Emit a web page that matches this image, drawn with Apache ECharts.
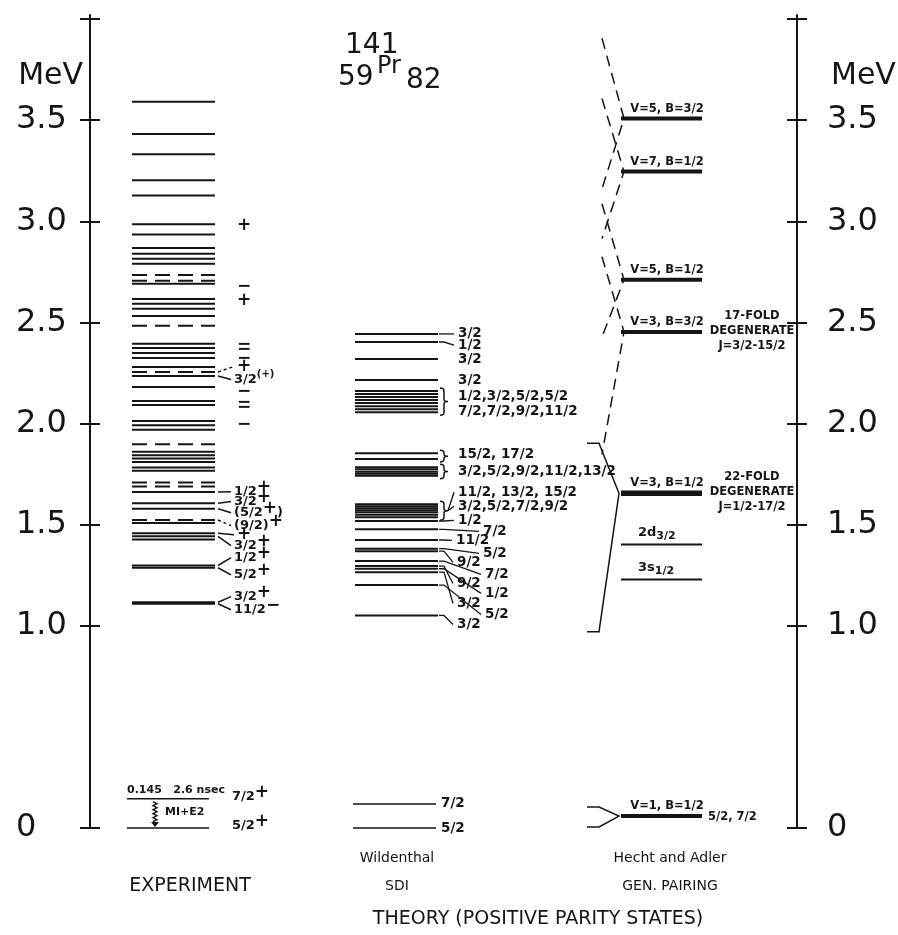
<!DOCTYPE html>
<html>
<head>
<meta charset="utf-8">
<script src="https://cdn.jsdelivr.net/npm/echarts@6.0.0/dist/echarts.min.js"></script>
<style>
  html, body { margin: 0; padding: 0; background: #fff; }
  #chart { width: 898px; height: 935px; }
</style>
</head>
<body>
<div id="chart"></div>
<script>
// axis (MeV)
const tickValues = [0, 1.0, 1.5, 2.0, 2.5, 3.0, 3.5, 4.0];
const labelValues = [0, 1.0, 1.5, 2.0, 2.5, 3.0, 3.5];

// experiment levels (MeV)
const expLevels = [3.591, 3.431, 3.332, 3.203, 3.128, 2.985, 2.935, 2.868, 2.839, 2.815, 2.790,
  2.691, 2.616, 2.592, 2.567, 2.532, 2.394, 2.374, 2.349, 2.324, 2.279, 2.235, 2.181,
  2.111, 2.091, 2.012, 1.992, 1.969, 1.860, 1.843, 1.827, 1.810, 1.782, 1.766,
  1.662, 1.606, 1.579, 1.508, 1.457, 1.442, 1.427, 1.298, 1.287, 1.116, 1.109];
const expTentative = [2.735, 2.706, 2.483, 2.255, 1.898, 1.708, 1.688, 1.523];
const expLow = [0.145, 0];

// experiment spin / parity tags
const expTagText = ['+', '−', '+', '−', '−', '−', '+', '3/2^(+)', '−', '−', '−', '−',
  '1/2^+', '3/2^+', '(5/2^+^)', '(9/2)^+', '+', '3/2^+', '1/2^+', '5/2^+', '3/2^+', '11/2^−',
  '7/2^+', '5/2^+'];
const expTagAt = [2.980, 2.678, 2.609, 2.391, 2.366, 2.322, 2.282, 2.218, 2.158, 2.104, 2.079, 1.995,
  1.663, 1.614, 1.559, 1.495, 1.450, 1.396, 1.337, 1.252, 1.144, 1.079,
  0.153, 0.010];
const expTagFrom = [null, null, null, null, null, null, 2.255, 2.235, null, null, null, null,
  1.662, 1.606, 1.579, 1.523, 1.457, 1.442, 1.298, 1.287, 1.116, 1.109,
  null, null];

// Wildenthal SDI levels
const sdiLevels = [2.443, 2.403, 2.319, 2.215,
  2.161, 2.146, 2.131, 2.116, 2.101, 2.086, 2.071, 2.056,
  1.853, 1.824,
  1.784, 1.774, 1.762, 1.752, 1.742,
  1.601, 1.591, 1.581, 1.571, 1.561, 1.549, 1.536,
  1.518, 1.477, 1.424, 1.381, 1.369, 1.320, 1.295, 1.282, 1.265, 1.201, 1.051];
const sdiLow = [0.119, 0];
const sdiGroups = [[4, 11], [12, 13], [14, 18], [19, 25]];
const sdiTagText = ['3/2', '1/2', '3/2', '3/2', '1/2,3/2,5/2,5/2', '7/2,7/2,9/2,11/2',
  '15/2, 17/2', '3/2,5/2,9/2,11/2,13/2', '11/2, 13/2, 15/2', '3/2,5/2,7/2,9/2',
  '1/2', '7/2', '11/2', '5/2', '9/2', '7/2', '9/2', '1/2', '3/2', '5/2', '3/2', '7/2', '5/2'];
const sdiTagAt = [2.443, 2.388, 2.319, 2.215, 2.136, 2.061, 1.848, 1.764, 1.660, 1.591,
  1.521, 1.467, 1.422, 1.358, 1.313, 1.254, 1.209, 1.160, 1.110, 1.056, 1.006, 0.119, 0.0];
const sdiTagFrom = [2.443, 2.403, null, null, null, null, null, null, 'g3', 'g3',
  1.518, 1.477, 1.424, 1.381, 1.369, 1.320, 1.295, 1.282, 1.265, 1.201, 1.051, null, null];

// Hecht and Adler generalized pairing
const haLevels = [3.508, 3.246, 2.711, 2.453, 1.655, 1.402, 1.229, 0.059];
const haNames = ['V=5, B=3/2', 'V=7, B=1/2', 'V=5, B=1/2', 'V=3, B=3/2', 'V=3, B=1/2',
  '2d_3/2', '3s_1/2', 'V=1, B=1/2'];
const haSpreadTop = [3.905, 3.607, 3.087, 2.825, 1.903, null, null, 0.104];
const haSpreadBottom = [3.160, 2.914, 2.428, 1.848, 0.971, null, null, 0.005];
const haNotes = [null, null, null, ['17-FOLD', 'DEGENERATE', 'J=3/2-15/2'],
  ['22-FOLD', 'DEGENERATE', 'J=1/2-17/2'], null, null, ['5/2, 7/2']];

const INK = '#151515';
const FONT = '"DejaVu Sans", sans-serif';
const ctx = document.createElement('canvas').getContext('2d');
function textWidth(t, font) { ctx.font = font; return ctx.measureText(t).width; }

function txt(text, x, y, font, align) {
  return { type: 'text', x: x, y: y, style: { text: text, font: font, fill: INK,
    textAlign: align || 'left', textVerticalAlign: 'middle' } };
}

// text with ^sup^ and _sub_ parts
function tagGroup(str, x, y, size) {
  const out = [];
  if (str === '+' || str === '−') {
    out.push(txt(str, x, y, 'bold ' + (size + 4) + 'px ' + FONT));
    return out;
  }
  let cx = x, mode = 0;
  str.split(/([\^_])/).forEach(tok => {
    if (tok === '^') { mode = mode === 1 ? 0 : 1; return; }
    if (tok === '_') { mode = mode === 2 ? 0 : 2; return; }
    if (!tok) return;
    let fs = size, dy = 0;
    if (mode === 1) { fs = /^[+−]$/.test(tok) ? size + 4 : size - 3; dy = /^[+−]$/.test(tok) ? -4 : -5; }
    if (mode === 2) { fs = size - 2; dy = 4; }
    const font = 'bold ' + fs + 'px ' + FONT;
    out.push(txt(tok, cx, y + dy, font));
    cx += textWidth(tok, font);
  });
  return out;
}

function custom(data, renderItem) {
  return { type: 'custom', coordinateSystem: 'cartesian2d', clip: false, silent: true,
    data: data.map(v => [0, v]), renderItem: renderItem };
}

function levelSeries(values, x1, x2, width, dash) {
  return custom(values, (params, api) => {
    const y = api.coord([0, api.value(1)])[1];
    return { type: 'line', shape: { x1: x1, y1: y, x2: x2, y2: y },
      style: { stroke: INK, lineWidth: width, lineDash: dash || null } };
  });
}

const chart = echarts.init(document.getElementById('chart'), null, { renderer: 'canvas' });

function yAxisDef(pos, inside, labels) {
  return {
    type: 'value', position: pos, min: 0, max: 4.02,
    axisLine: { show: !inside, lineStyle: { color: INK, width: 2 } },
    axisTick: { show: true, inside: inside, length: 10, customValues: tickValues,
      lineStyle: { color: INK, width: 2 } },
    axisLabel: { show: labels, customValues: labelValues, fontFamily: FONT, fontSize: 32,
      color: INK, align: 'left', margin: pos === 'left' ? 74 : 30,
      formatter: v => v === 0 ? '0' : v.toFixed(1) },
    splitLine: { show: false }
  };
}

// experiment tags
const expTagSeries = custom(expTagAt, (params, api) => {
  const i = params.dataIndex;
  const y = api.coord([0, api.value(1)])[1];
  const lone = expTagText[i] === '+' || expTagText[i] === '−';
  const x = i >= 22 ? 232 : (lone ? 237 : 234);
  const kids = tagGroup(expTagText[i], x, y, 13);
  if (expTagFrom[i] !== null) {
    const ly = api.coord([0, expTagFrom[i]])[1];
    kids.push({ type: 'line', shape: { x1: 218, y1: ly, x2: x - 3, y2: y },
      style: { stroke: INK, lineWidth: 1.5,
        lineDash: expTentative.indexOf(expTagFrom[i]) >= 0 ? [3, 3] : null } });
  }
  return { type: 'group', children: kids };
});

// gamma transition 0.145 -> 0
const gammaSeries = custom([expLow[0]], (params, api) => {
  const yTop = api.coord([0, expLow[0]])[1];
  const yBot = api.coord([0, expLow[1]])[1];
  const pts = [];
  for (let y = yTop + 3, k = 0; y < yBot - 5; y += 2, k++) pts.push([155 + (k % 2 ? 2 : -2), y]);
  return { type: 'group', children: [
    { type: 'polyline', shape: { points: pts }, style: { stroke: INK, lineWidth: 1.4, fill: null } },
    { type: 'polygon', shape: { points: [[151, yBot - 6], [159, yBot - 6], [155, yBot - 1]] },
      style: { fill: INK } },
    txt('0.145   2.6 nsec', 127, yTop - 9, 'bold 11px ' + FONT),
    txt('MI+E2', 165, (yTop + yBot) / 2 - 1, 'bold 11px ' + FONT)
  ] };
});

// SDI tags
const sdiTagX = [458, 458, 458, 458, 458, 458, 458, 458, 458, 458,
  458, 483, 456, 483, 457, 485, 457, 485, 457, 485, 457, 441, 441];
const braceX = 440;
const sdiTagSeries = custom(sdiTagAt, (params, api) => {
  const i = params.dataIndex;
  const y = api.coord([0, api.value(1)])[1];
  const x = sdiTagX[i];
  const kids = [txt(sdiTagText[i], x, y, 'bold 13.5px ' + FONT)];
  const from = sdiTagFrom[i];
  if (typeof from === 'number') {
    const ly = api.coord([0, from])[1];
    kids.push({ type: 'polyline', shape: { points: [[439, ly], [444, ly], [x - 4, y]] },
      style: { stroke: INK, lineWidth: 1.3, fill: null } });
  } else if (from === 'g3') {
    const g = sdiGroups[3];
    const my = (api.coord([0, sdiLevels[g[0]]])[1] + api.coord([0, sdiLevels[g[1]]])[1]) / 2;
    kids.push({ type: 'line', shape: { x1: braceX + 8, y1: my, x2: x - 4, y2: y },
      style: { stroke: INK, lineWidth: 1.3 } });
  }
  return { type: 'group', children: kids };
});

const braceSeries = custom(sdiGroups.map(g => sdiLevels[g[0]]), (params, api) => {
  const g = sdiGroups[params.dataIndex];
  const t = api.coord([0, sdiLevels[g[0]]])[1] - 3;
  const b = api.coord([0, sdiLevels[g[1]]])[1] + 3;
  const m = (t + b) / 2, x = braceX;
  const path = 'M' + x + ' ' + t + ' Q' + (x + 4) + ' ' + t + ' ' + (x + 4) + ' ' + (t + 3) +
    ' L' + (x + 4) + ' ' + (m - 2) + ' Q' + (x + 4) + ' ' + m + ' ' + (x + 8) + ' ' + m +
    ' Q' + (x + 4) + ' ' + m + ' ' + (x + 4) + ' ' + (m + 2) +
    ' L' + (x + 4) + ' ' + (b - 3) + ' Q' + (x + 4) + ' ' + b + ' ' + x + ' ' + b;
  return { type: 'path', shape: { pathData: path }, style: { stroke: INK, lineWidth: 1.5, fill: null } };
});

// Hecht and Adler levels, names, notes
const haSeries = custom(haLevels, (params, api) => {
  const i = params.dataIndex;
  const y = api.coord([0, api.value(1)])[1];
  const strong = haNames[i].charAt(0) === 'V';
  const kids = [{ type: 'line', shape: { x1: 621, y1: y, x2: 702, y2: y },
    style: { stroke: INK, lineWidth: strong ? (i === 4 ? 5.5 : 4) : 2 } }];
  if (strong) {
    kids.push(txt(haNames[i], 667, y - 10, 'bold 11.5px ' + FONT, 'center'));
  } else {
    tagGroup(haNames[i], 638, y - 12, 13).forEach(k => kids.push(k));
  }
  const note = haNotes[i];
  if (note && note.length === 3) {
    note.forEach((s, k) => kids.push(txt(s, 752, y + (k - 1) * 15 - 1, 'bold 11.5px ' + FONT, 'center')));
  } else if (note) {
    kids.push(txt(note[0], 708, y + 1, 'bold 11.5px ' + FONT));
  }
  return { type: 'group', children: kids };
});

const haSpreadSeries = custom(haLevels, (params, api) => {
  const i = params.dataIndex;
  if (haSpreadTop[i] === null) return null;
  const y = api.coord([0, api.value(1)])[1];
  const yt = api.coord([0, haSpreadTop[i]])[1];
  const yb = api.coord([0, haSpreadBottom[i]])[1];
  const solid = i >= 4;
  const pts = solid ? [[587, yt], [599, yt], [619, y], [599, yb], [587, yb]]
    : [[602, yt], [624, y], [602, yb]];
  return { type: 'polyline', shape: { points: pts },
    style: { stroke: INK, lineWidth: 1.5, fill: null, lineDash: solid ? null : [11, 7] } };
});

const big = n => n + 'px ' + FONT;
const graphic = [
  { type: 'text', x: 83, y: 76, style: { text: 'MeV', font: big(30), fill: INK, textAlign: 'right', textVerticalAlign: 'middle' } },
  { type: 'text', x: 831, y: 76, style: { text: 'MeV', font: big(30), fill: INK, textAlign: 'left', textVerticalAlign: 'middle' } },
  { type: 'text', x: 345, y: 46, style: { text: '141', font: big(28), fill: INK, textVerticalAlign: 'middle' } },
  { type: 'text', x: 338, y: 78, style: { text: '59', font: big(28), fill: INK, textVerticalAlign: 'middle' } },
  { type: 'text', x: 377, y: 67, style: { text: 'Pr', font: big(24), fill: INK, textVerticalAlign: 'middle' } },
  { type: 'text', x: 406, y: 81, style: { text: '82', font: big(28), fill: INK, textVerticalAlign: 'middle' } },
  { type: 'text', x: 190, y: 886, style: { text: 'EXPERIMENT', font: big(19), fill: INK, textAlign: 'center', textVerticalAlign: 'middle' } },
  { type: 'text', x: 397, y: 858, style: { text: 'Wildenthal', font: big(14), fill: INK, textAlign: 'center', textVerticalAlign: 'middle' } },
  { type: 'text', x: 397, y: 886, style: { text: 'SDI', font: big(14), fill: INK, textAlign: 'center', textVerticalAlign: 'middle' } },
  { type: 'text', x: 670, y: 858, style: { text: 'Hecht and Adler', font: big(14), fill: INK, textAlign: 'center', textVerticalAlign: 'middle' } },
  { type: 'text', x: 670, y: 886, style: { text: 'GEN. PAIRING', font: big(14), fill: INK, textAlign: 'center', textVerticalAlign: 'middle' } },
  { type: 'text', x: 538, y: 919, style: { text: 'THEORY (POSITIVE PARITY STATES)', font: big(19), fill: INK, textAlign: 'center', textVerticalAlign: 'middle' } }
];

chart.setOption({
  animation: false,
  backgroundColor: '#fff',
  grid: { left: 90, right: 101, top: 15, bottom: 107 },
  xAxis: { type: 'value', min: 0, max: 1, show: false },
  yAxis: [yAxisDef('left', false, true), yAxisDef('left', true, false),
    yAxisDef('right', false, true), yAxisDef('right', true, false)],
  graphic: graphic,
  series: [
    levelSeries(expLevels, 132, 215, 2),
    levelSeries(expTentative, 132, 215, 2, [15, 8]),
    levelSeries(expLow, 127, 209, 1.6),
    expTagSeries,
    gammaSeries,
    levelSeries(sdiLevels, 355, 438, 2),
    levelSeries(sdiLow, 353, 436, 1.5),
    braceSeries,
    sdiTagSeries,
    haSpreadSeries,
    haSeries
  ]
});
</script>
</body>
</html>
